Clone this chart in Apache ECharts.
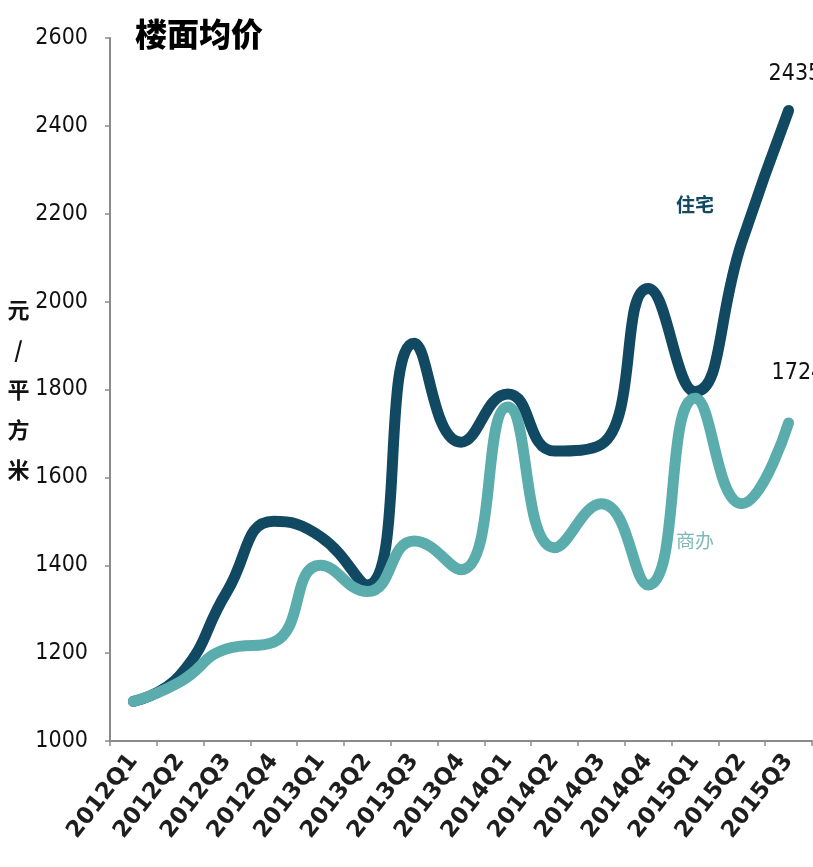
<!DOCTYPE html>
<html>
<head>
<meta charset="utf-8">
<script src="https://cdn.jsdelivr.net/npm/echarts@6/dist/echarts.min.js"></script>
<style>
  html, body { margin: 0; padding: 0; background: #ffffff; }
  #chart { width: 813px; height: 867px; }
</style>
</head>
<body>
<div id="chart"></div>
<script>
// Quarterly floor price (元/平方米), residential vs. commercial/office
const quarters = ['2012Q1', '2012Q2', '2012Q3', '2012Q4', '2013Q1', '2013Q2', '2013Q3', '2013Q4',
                  '2014Q1', '2014Q2', '2014Q3', '2014Q4', '2015Q1', '2015Q2', '2015Q3'];
const residential = [1090, 1150, 1340, 1500, 1465, 1355, 1905, 1680, 1790, 1660, 1675, 2030, 1795, 2135, 2435];
const commercial  = [1090, 1135, 1210, 1225, 1400, 1340, 1455, 1390, 1760, 1440, 1540, 1355, 1780, 1540, 1724];
const yTicks = [1000, 1200, 1400, 1600, 1800, 2000, 2200, 2400, 2600];

const darkColor = '#114962';
const lightColor = '#5aadac';
const numFont = '"DejaVu Sans Condensed", "Liberation Sans", sans-serif';
const cjkFont = '"Noto Sans CJK SC", sans-serif';

const chart = echarts.init(document.getElementById('chart'), null, { renderer: 'canvas' });

chart.setOption({
  animation: false,
  backgroundColor: '#ffffff',
  title: {
    text: '楼面均价',
    left: 130, top: 13,
    textStyle: { fontFamily: cjkFont, fontSize: 32, fontWeight: 900, color: '#000' }
  },
  grid: { left: 110, right: 1, top: 38, bottom: 126, containLabel: false, outerBoundsMode: 'none' },
  xAxis: {
    type: 'category',
    data: quarters,
    boundaryGap: true,
    axisLine: { lineStyle: { color: '#8a8a8a', width: 2 } },
    axisTick: { show: true, length: 5, lineStyle: { color: '#8a8a8a', width: 1.5 } },
    axisLabel: {
      interval: 0, rotate: 52, margin: 16,
      fontFamily: '"DejaVu Sans", sans-serif',
      fontSize: 23, fontWeight: 'bold', color: '#1e1e1e'
    },
    splitLine: { show: false }
  },
  yAxis: {
    type: 'value',
    min: yTicks[0], max: yTicks[yTicks.length - 1], interval: 200,
    name: '元\n/\n平\n方\n米',
    nameLocation: 'middle', nameRotate: 0, nameGap: 88,
    nameTextStyle: { fontFamily: cjkFont, fontSize: 22, fontWeight: 'bold', color: '#111', lineHeight: 40, align: 'center' },
    axisLine: { show: true, lineStyle: { color: '#8a8a8a', width: 2 } },
    axisTick: { show: true, length: 5, lineStyle: { color: '#8a8a8a', width: 1.5 } },
    axisLabel: { margin: 22, fontFamily: numFont, fontSize: 23, color: '#111',
      formatter: v => String(v) },
    splitLine: { show: false }
  },
  series: [
    {
      name: '住宅',
      type: 'line',
      data: residential,
      smooth: 0.5,
      symbol: 'none',
      lineStyle: { color: darkColor, width: 11, cap: 'round', join: 'round' },
      itemStyle: { color: darkColor },
      endLabel: { show: true, formatter: '{c}', offset: [-28, -36],
        fontFamily: numFont, fontSize: 23, color: '#111' },
      markPoint: {
        symbol: 'circle', symbolSize: 0, silent: true,
        data: [{ coord: ['2015Q1', 2220], value: '住宅',
          label: { show: true, formatter: '住宅', fontFamily: cjkFont, fontSize: 19, fontWeight: 'bold', color: darkColor } }]
      },
      z: 2
    },
    {
      name: '商办',
      type: 'line',
      data: commercial,
      smooth: 0.5,
      symbol: 'none',
      lineStyle: { color: lightColor, width: 11, cap: 'round', join: 'round' },
      itemStyle: { color: lightColor },
      endLabel: { show: true, formatter: '{c}', offset: [-25, -50],
        fontFamily: numFont, fontSize: 23, color: '#111' },
      markPoint: {
        symbol: 'circle', symbolSize: 0, silent: true,
        data: [{ coord: ['2015Q1', 1455], value: '商办',
          label: { show: true, formatter: '商办', fontFamily: cjkFont, fontSize: 19, color: '#7fb8b6' } }]
      },
      z: 3
    }
  ]
});
</script>
</body>
</html>
